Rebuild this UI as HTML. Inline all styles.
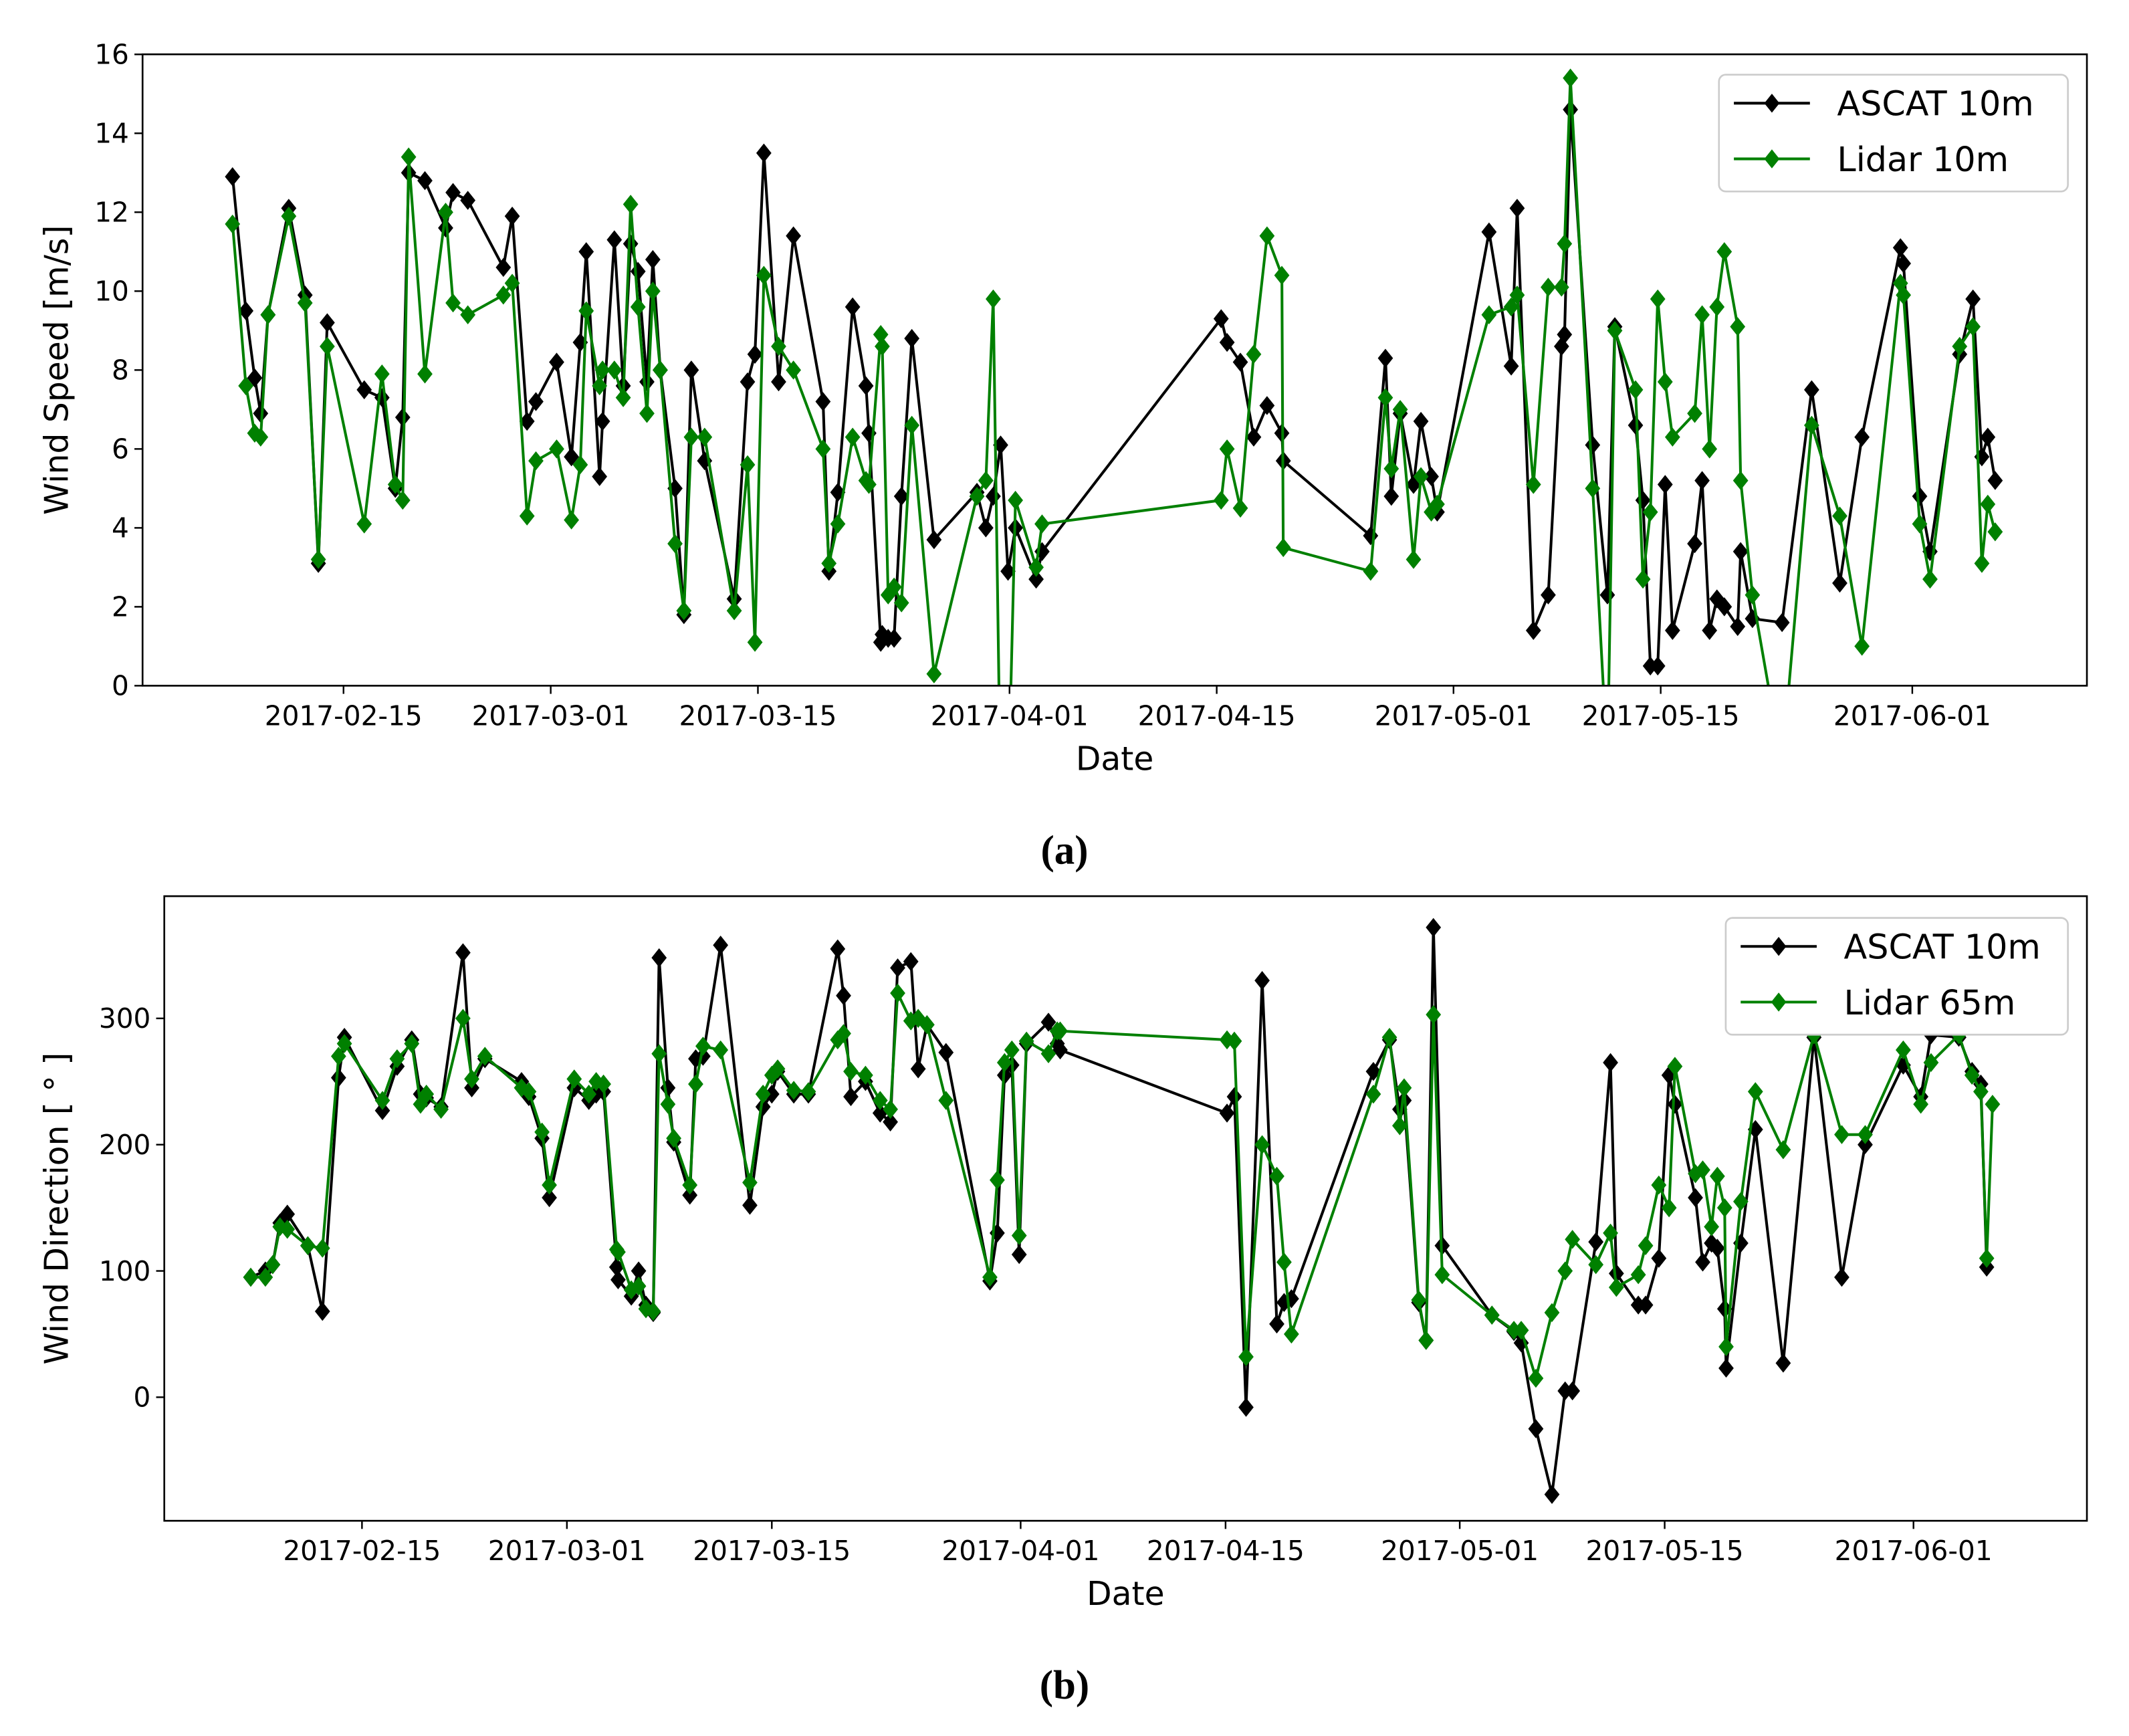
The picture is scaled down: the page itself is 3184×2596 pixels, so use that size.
<!DOCTYPE html>
<html><head><meta charset="utf-8"><style>
html,body{margin:0;padding:0;background:#fff;}
svg{display:block;font-family:"DejaVu Sans","Liberation Sans",sans-serif;}
</style></head><body>
<svg id="fig" width="3184" height="2596" viewBox="0 0 1568 1278.5" preserveAspectRatio="none" xmlns="http://www.w3.org/2000/svg">
<rect width="1568" height="1278.5" fill="#fff"/>
<defs>
<clipPath id="clipA"><rect x="105" y="40" width="1432" height="465"/></clipPath>
<clipPath id="clipB"><rect x="121" y="660" width="1416" height="460"/></clipPath>
</defs>
<g id="chartA"></g>
<g id="chartB"></g>
<text x="784" y="636" text-anchor="middle" font-family="Liberation Serif, serif" font-weight="bold" font-size="30">(a)</text>
<text x="784" y="1251" text-anchor="middle" font-family="Liberation Serif, serif" font-weight="bold" font-size="30">(b)</text>
</svg>
<script>
// ---- data: days since 2017-02-01 ----
const speedDays = [6.5,7.4,8.0,8.4,8.9,10.3,11.4,12.3,12.9,15.4,16.6,17.5,18.0,18.4,19.5,20.9,21.4,22.4,24.8,25.4,26.4,27.0,28.4,29.4,30.0,30.4,31.3,31.5,32.3,32.9,33.4,33.9,34.5,34.9,35.4,36.4,37.0,37.5,38.4,40.4,41.3,41.8,42.4,43.4,44.4,46.4,46.8,47.4,48.4,49.3,49.5,50.3,50.4,50.8,51.2,51.7,52.4,53.9,56.8,57.4,57.9,58.4,58.9,59.4,60.8,61.2,73.3,73.7,74.6,75.5,76.4,77.4,77.5,83.4,84.4,84.8,85.4,86.3,86.8,87.5,87.9,91.4,92.9,93.3,94.4,95.4,96.3,96.5,96.9,98.4,99.4,99.9,101.3,101.8,102.3,102.8,103.3,103.8,105.3,105.8,106.3,106.8,107.3,108.2,108.4,109.2,111.2,113.2,115.1,116.6,119.2,119.4,120.5,121.2,123.2,124.1,124.7,125.1,125.6];
const ascatSpeed = [12.9,9.5,7.8,6.9,9.4,12.1,9.9,3.1,9.2,7.5,7.3,5.0,6.8,13.0,12.8,11.6,12.5,12.3,10.6,11.9,6.7,7.2,8.2,5.8,8.7,11.0,5.3,6.7,11.3,7.6,11.2,10.5,7.7,10.8,8.0,5.0,1.8,8.0,5.7,2.2,7.7,8.4,13.5,7.7,11.4,7.2,2.9,4.9,9.6,7.6,6.4,1.1,1.3,1.2,1.2,4.8,8.8,3.7,4.9,4.0,4.8,6.1,2.9,4.0,2.7,3.4,9.3,8.7,8.2,6.3,7.1,6.4,5.7,3.8,8.3,4.8,6.9,5.1,6.7,5.3,4.4,11.5,8.1,12.1,1.4,2.3,8.6,8.9,14.6,6.1,2.3,9.1,6.6,4.7,0.5,0.5,5.1,1.4,3.6,5.2,1.4,2.2,2.0,1.5,3.4,1.7,1.6,7.5,2.6,6.3,11.1,10.7,4.8,3.4,8.4,9.8,5.8,6.3,5.2];
const lidarSpeed = [11.7,7.6,6.4,6.3,9.4,11.9,9.7,3.2,8.6,4.1,7.9,5.1,4.7,13.4,7.9,12.0,9.7,9.4,9.9,10.2,4.3,5.7,6.0,4.2,5.6,9.5,7.6,8.0,8.0,7.3,12.2,9.6,6.9,10.0,8.0,3.6,1.9,6.3,6.3,1.9,5.6,1.1,10.4,8.6,8.0,6.0,3.1,4.1,6.3,5.2,5.1,8.9,8.6,2.3,2.5,2.1,6.6,0.3,4.8,5.2,9.8,-3,-3,4.7,3.0,4.1,4.7,6.0,4.5,8.4,11.4,10.4,3.5,2.9,7.3,5.5,7.0,3.2,5.3,4.4,4.6,9.4,9.6,9.9,5.1,10.1,10.1,11.2,15.4,5.0,-2,9.0,7.5,2.7,4.4,9.8,7.7,6.3,6.9,9.4,6.0,9.6,11.0,9.1,5.2,2.3,-2,6.6,4.3,1.0,10.2,9.9,4.1,2.7,8.6,9.1,3.1,4.6,3.9];
const dirDays = [6.4,7.4,7.9,8.4,8.9,10.3,11.3,12.4,12.8,15.4,16.4,17.4,18.0,18.4,19.4,20.9,21.5,22.4,24.9,25.4,26.3,26.8,28.5,29.5,30.0,30.5,31.4,31.5,32.4,32.9,33.4,33.9,34.3,34.9,35.3,36.4,36.8,37.3,38.5,40.5,41.4,42.0,42.4,43.5,44.5,46.5,46.9,47.4,48.4,49.4,50.1,50.6,51.5,52.0,52.6,53.9,56.9,57.4,57.9,58.4,58.9,59.4,60.9,61.5,61.7,73.1,73.6,74.4,75.5,76.5,77.0,77.5,83.1,84.2,84.9,85.2,86.2,86.7,87.2,87.8,91.2,92.7,93.2,94.2,95.3,96.2,96.7,98.3,99.3,99.7,101.2,101.7,102.6,103.3,103.7,105.1,105.6,106.2,106.6,107.1,107.2,108.2,109.2,111.1,113.2,115.1,116.7,119.3,120.5,121.2,123.1,124.0,124.6,125.0];
const ascatDir = [95,100,105,138,145,120,68,253,285,227,262,283,240,237,230,352,245,268,250,238,205,158,245,235,240,242,103,93,80,100,73,67,348,245,202,160,268,270,358,152,230,240,258,240,240,355,318,238,250,225,218,340,345,260,295,273,92,130,255,263,113,280,297,280,275,225,238,-8,330,58,75,78,258,283,228,235,75,45,372,120,65,52,43,-25,-77,5,5,123,265,98,73,73,110,255,232,158,107,122,118,70,23,122,212,27,285,95,200,263,238,287,285,258,248,103];
const lidarDirDays = dirDays.concat([125.4]);
const lidarDir = [95,95,105,135,133,120,118,270,280,235,268,280,232,240,228,300,252,270,245,242,210,168,252,240,250,248,117,115,85,88,70,68,272,232,205,168,248,278,275,170,240,255,260,243,242,283,288,258,255,235,228,320,298,300,295,235,95,172,265,275,128,282,272,290,290,283,282,32,200,175,107,50,240,285,215,245,77,45,303,97,65,53,53,15,67,100,125,105,130,87,97,120,168,150,262,177,180,135,175,150,40,155,242,196,287,208,208,275,232,265,287,255,242,110,232];
const dateTickDays = [14,28,42,59,73,89,103,120];
const dateTickLabels = ["2017-02-15","2017-03-01","2017-03-15","2017-04-01","2017-04-15","2017-05-01","2017-05-15","2017-06-01"];
const speedTicks = [0,2,4,6,8,10,12,14,16];
const dirTicks = [0,100,200,300];

const NS="http://www.w3.org/2000/svg";
function mk(parent,tag,attrs,text){const e=document.createElementNS(NS,tag);for(const k in attrs)e.setAttribute(k,attrs[k]);if(text!==undefined)e.textContent=text;parent.appendChild(e);return e;}

function drawChart(g,cfg){
  const xs=d=>cfg.xRef+(d-14)*cfg.pxDay;
  const ys=v=>cfg.y0pix - (v-cfg.vmin)*cfg.pxUnit;
  cfg.yTicks.forEach(t=>{
    const y=ys(t);
    const l=mk(g,'line',{x1:cfg.L-6,x2:cfg.L,y1:y,y2:y,stroke:'#000','stroke-width':1.2});
    
    
    const tx=mk(g,'text',{x:cfg.L-10,y:y+7,'text-anchor':'end','font-size':20},String(t));
    
    
  });
  dateTickDays.forEach((d,i)=>{
    const x=xs(d);
    const l=mk(g,'line',{x1:x,x2:x,y1:cfg.B,y2:cfg.B+6,stroke:'#000','stroke-width':1.2});
    
    
    const tx=mk(g,'text',{x:x,y:cfg.B+29,'text-anchor':'middle','font-size':20},dateTickLabels[i]);
    
    
  });
  const xt=mk(g,'text',{x:(cfg.L+cfg.R)/2,y:cfg.B+62,'text-anchor':'middle','font-size':24},'Date');
  
  
  const yt=mk(g,'text',{x:0,y:0,'text-anchor':'middle','font-size':24,transform:`translate(${cfg.yTitleX},${(cfg.T+cfg.B)/2}) rotate(-90)`},cfg.yTitle);
  
  
  const plot=mk(g,'g',{'clip-path':`url(#${cfg.clip})`});
  
  
  cfg.series.forEach(s=>{
    const pts=s.days.map((d,i)=>xs(d).toFixed(1)+','+ys(s.vals[i]).toFixed(1)).join(' ');
    const pl=mk(plot,'polyline',{points:pts,fill:'none',stroke:s.color,'stroke-width':2});
    
    
    s.days.forEach((d,i)=>{
      const x=xs(d),y=ys(s.vals[i]),r=7;
      const m=mk(plot,'polygon',{points:`${x},${y-r} ${x+r*0.8},${y} ${x},${y+r} ${x-r*0.8},${y}`,fill:s.color});
      
      
    });
  });
  const fr=mk(g,'rect',{x:cfg.L,y:cfg.T,width:cfg.R-cfg.L,height:cfg.B-cfg.T,fill:'none',stroke:'#000','stroke-width':1.3});
  
  
  const lg=mk(g,'g',{});
  
  
  const lb=cfg.legend;
  mk(lg,'rect',{x:lb.x,y:lb.y,width:lb.w,height:lb.h,rx:5,fill:'#fff',stroke:'#ccc','stroke-width':1.3});
  cfg.series.forEach((s,i)=>{
    const y=lb.y+21+i*41;
    const e=mk(lg,'g',{});
    
    
    mk(e,'line',{x1:lb.x+11,x2:lb.x+67,y1:y,y2:y,stroke:s.color,'stroke-width':2});
    const cx=lb.x+39;
    mk(e,'polygon',{points:`${cx},${y-7} ${cx+5.6},${y} ${cx},${y+7} ${cx-5.6},${y}`,fill:s.color});
    mk(e,'text',{x:lb.x+87,y:y+9,'font-size':25},s.label);
  });
}

drawChart(document.getElementById('chartA'),{
  L:105,R:1537,T:40,B:505,xRef:253,pxDay:10.9,y0pix:505,vmin:0,pxUnit:29.06,
  yTicks:speedTicks,yTitle:'Wind Speed [m/s]',yTitleX:50,clip:'clipA',
  legend:{x:1266,y:55,w:257,h:86},
  series:[
    {name:'ascat-speed',label:'ASCAT 10m',color:'#000000',days:speedDays,vals:ascatSpeed},
    {name:'lidar-speed',label:'Lidar 10m',color:'#008000',days:speedDays,vals:lidarSpeed}
  ]
});
drawChart(document.getElementById('chartB'),{
  L:121,R:1537,T:660,B:1120,xRef:266.6,pxDay:10.78,y0pix:1029,vmin:0,pxUnit:0.93,
  yTicks:dirTicks,yTitle:'Wind Direction [ ° ]',yTitleX:50,clip:'clipB',
  legend:{x:1271,y:676,w:252,h:86},
  series:[
    {name:'ascat-direction',label:'ASCAT 10m',color:'#000000',days:dirDays,vals:ascatDir},
    {name:'lidar-direction',label:'Lidar 65m',color:'#008000',days:lidarDirDays,vals:lidarDir}
  ]
});
</script>
</body></html>
